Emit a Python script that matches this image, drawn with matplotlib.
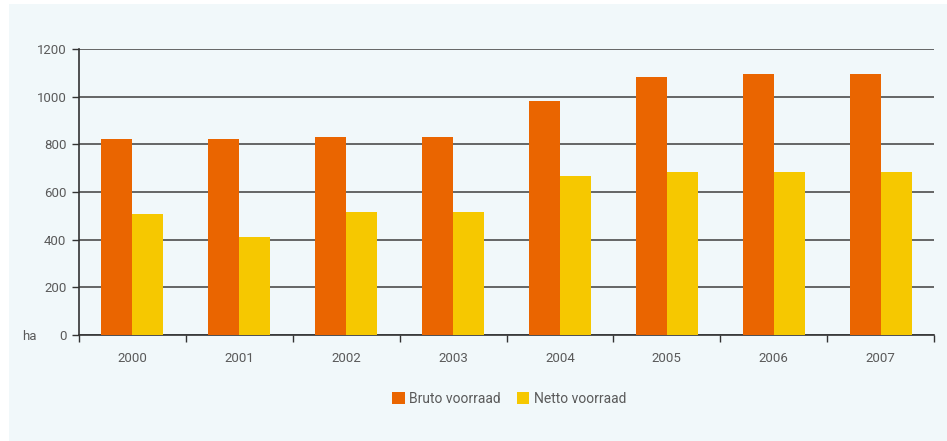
import numpy as np
import matplotlib.pyplot as plt
from matplotlib.patches import Rectangle

years = ['2000', '2001', '2002', '2003', '2004', '2005', '2006', '2007']
bruto = [822, 822, 831, 831, 982, 1083, 1095, 1095]
netto = [508, 411, 516, 516, 667, 684, 684, 684]

orange = '#EA6500'
yellow = '#F6C800'
txt = '#5a5a5a'

plt.rcParams['font.family'] = ['Roboto', 'DejaVu Sans']
plt.rcParams['font.size'] = 9.5

fig = plt.figure(figsize=(9.47, 4.41), dpi=100)
fig.patch.set_facecolor('white')
fig.patches.append(Rectangle((9 / 947, 0), 1, 1 - 4 / 441, transform=fig.transFigure,
                             facecolor='#F1F8FA', edgecolor='none', zorder=-10))

ax = fig.add_axes([79 / 947, 1 - 335 / 441, (934 - 79) / 947, (335 - 49) / 441])
ax.set_facecolor('none')

x = np.arange(len(years))
w = 0.29
ax.bar(x - w / 2, bruto, w, color=orange, label='Bruto voorraad', zorder=3)
ax.bar(x + w / 2, netto, w, color=yellow, label='Netto voorraad', zorder=3)

ax.set_xlim(-0.5, len(years) - 0.5)
ax.set_ylim(0, 1200)
ax.set_yticks(range(0, 1201, 200))
ax.yaxis.grid(True, color='#4d4d4d', linewidth=1.2, zorder=1)
ax.set_axisbelow(True)

ax.set_xticks(x)
ax.set_xticklabels(years, color=txt)
ax.tick_params(axis='x', length=0, pad=12)
ax.set_xticks(np.arange(-0.5, len(years)), minor=True)
ax.tick_params(axis='x', which='minor', length=5, direction='out', color='#333333', width=1)
ax.tick_params(axis='y', length=5, direction='out', color='#333333', width=1, labelcolor=txt, pad=4)

for s in ['top', 'right']:
    ax.spines[s].set_visible(False)
for s in ['left', 'bottom']:
    ax.spines[s].set_color('#333333')
    ax.spines[s].set_linewidth(1.2)

fig.text(22 / 947, 1 - 336 / 441, 'ha', color=txt, va='center', ha='left')

fig.legend(loc='center', bbox_to_anchor=(509 / 947, 1 - 399 / 441), ncol=2, frameon=False,
           handlelength=0.9, handleheight=0.9, handletextpad=0.3, columnspacing=1.2,
           labelcolor=txt, fontsize=10)

plt.savefig('out.png', dpi=100)
